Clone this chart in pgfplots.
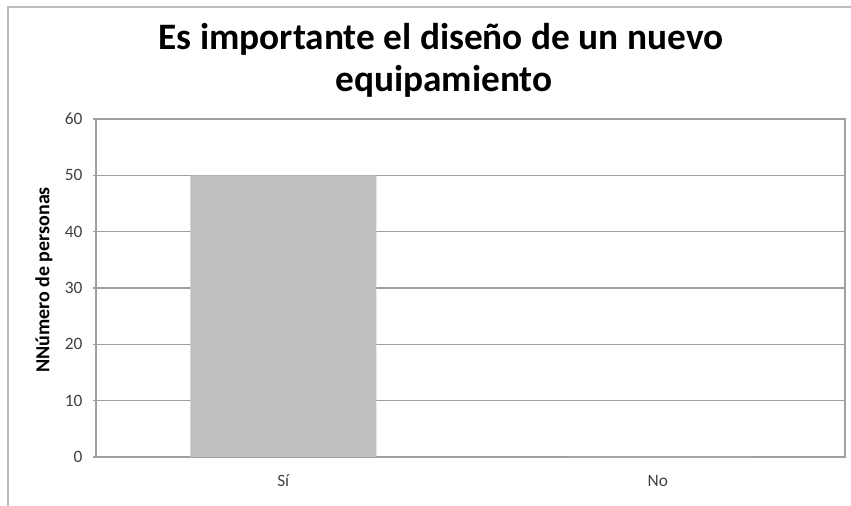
\documentclass[border=0pt]{standalone}
\usepackage{fontspec}
\setmainfont{Carlito}
\usepackage{pgfplots}
\pgfplotsset{compat=1.18}
\definecolor{gridc}{HTML}{A0A0A0}
\definecolor{barc}{HTML}{BFBFBF}
\begin{document}
\begin{tikzpicture}
\path[use as bounding box] (0pt,0pt) rectangle (638.25pt,379.5pt);
\draw[color=gridc!70, line width=0.8pt] (6pt,0pt) -- (6pt,374.25pt) -- (638.25pt,374.25pt);
\node[font=\bfseries\fontsize{28}{32}\selectfont] at (330.75pt,350.25pt) {Es importante el diseño de un nuevo};
\node[font=\bfseries\fontsize{28}{32}\selectfont] at (333pt,318.75pt) {equipamiento};
\node[font=\bfseries\fontsize{15}{18}\selectfont, rotate=90] at (33pt,169.5pt) {NNúmero de personas};
\begin{axis}[
  at={(72pt,36.75pt)}, anchor=south west,
  scale only axis, width=561.75pt, height=253.5pt,
  xmin=-0.5, xmax=1.5, ymin=0, ymax=60,
  xtick={0,1}, xticklabels={Sí,No},
  ytick={0,10,...,60},
  ymajorgrids, grid style={gridc, line width=1.2pt},
  axis line style={gridc, line width=1.2pt},
  tick align=outside, major tick length=2.5pt,
  tick style={gridc, line width=1.2pt},
  xtick style={draw=none},
  ytick pos=left,
  tick label style={font=\fontsize{13}{15}\selectfont, inner sep=0pt, text=black!75},
  yticklabel style={anchor=east, xshift=-7.5pt},
  xticklabel style={anchor=base, yshift=-20pt},
  /pgf/number format/assume math mode=true,
]
\addplot[ybar, bar width=139.5pt, fill=barc, draw=none] coordinates {(0,50) (1,0)};
\end{axis}
\end{tikzpicture}
\end{document}
